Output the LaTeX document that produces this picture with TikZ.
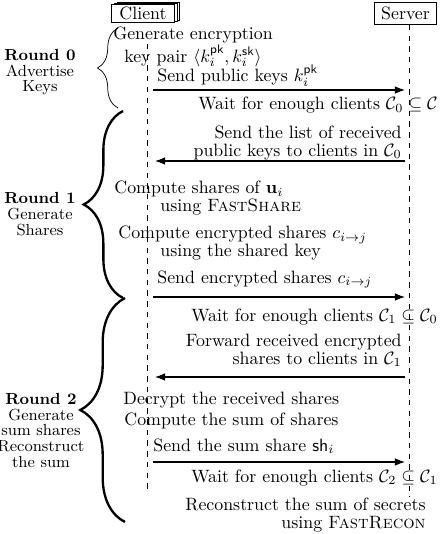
\documentclass[tikz,border=0pt]{standalone}
\usepackage{amsmath,amssymb}
\usetikzlibrary{arrows.meta,positioning,shadows,decorations.pathreplacing}

\begin{document}
\begin{tikzpicture}[x=0.56pt,y=-0.56pt,>=Latex,
  actor/.style={draw,fill=white,inner sep=1pt,minimum width=35pt},
  txt/.style={inner sep=0pt,font=\linespread{0.82}\selectfont},
  rnd/.style={inner sep=0pt,align=center,anchor=base,font=\small\linespread{0.79}\selectfont},
  life/.style={dashed,thin},
  msg/.style={->,semithick},
  brc/.style={decorate,decoration={brace,amplitude=#1}},
  brc/.default=12pt]
\useasboundingbox (0,0) rectangle (442,534);
% participants
\node[actor,minimum height=10pt,double copy shadow={shadow xshift=1.5pt,shadow yshift=0.5pt}] (client) at (143,13) {Client};
\node[actor,minimum height=12.5pt] (server) at (405.5,13.5) {Server};
\coordinate (cl0) at (147,44); \coordinate (cl1) at (147,494);
\coordinate (sl0) at (409,25); \coordinate (sl1) at (409,497);
\draw[life] (cl0)--(cl1); \draw[life] (sl0)--(sl1);
% round 0
\node[txt,align=center,anchor=base] (gen) at (193,62) {Generate encryption\\key pair $\langle k_i^{\mathsf{pk}}, k_i^{\mathsf{sk}}\rangle$};
\node[txt,anchor=base west] (sendpk) at (157,82) {Send public keys $k_i^{\mathsf{pk}}$};
\coordinate (c1) at (153,90); \coordinate (s1) at (405,90);
\draw[msg] (c1)--(s1);
\node[txt,anchor=base east] (wait0) at (438,110) {Wait for enough clients $\mathcal{C}_0 \subseteq \mathcal{C}$};
\node[txt,align=right,anchor=base east] (sendlist) at (402,156) {Send the list of received\\public keys to clients in $\mathcal{C}_0$};
\coordinate (c2) at (155,161); \coordinate (s2) at (405,161);
\draw[msg] (s2)--(c2);
% round 1
\node[txt,align=left,anchor=base west] (share) at (114,211) {Compute shares of $\mathbf{u}_i$\\\hspace*{25.8pt}using \textsc{FastShare}};
\node[txt,align=left,anchor=base west] (enc) at (118,256.5) {Compute encrypted shares $c_{i\to j}$\\\hspace*{23.5pt}using the shared key};
\node[txt,anchor=base west] (sendenc) at (157,283) {Send encrypted shares $c_{i\to j}$};
\coordinate (c3) at (153,297); \coordinate (s3) at (405,297);
\draw[msg] (c3)--(s3);
\node[txt,anchor=base east] (wait1) at (438,321) {Wait for enough clients $\mathcal{C}_1 \subseteq \mathcal{C}_0$};
\node[txt,align=right,anchor=base east] (fwd) at (402,364) {Forward received encrypted\\shares to clients in $\mathcal{C}_1$};
\coordinate (c4) at (155,377); \coordinate (s4) at (405,377);
\draw[msg] (s4)--(c4);
% round 2
\node[txt,anchor=base west] (dec) at (123,404) {Decrypt the received shares};
\node[txt,anchor=base west] (sum) at (124,425) {Compute the sum of shares};
\node[txt,anchor=base west] (sendsum) at (153,451) {Send the sum share $\mathsf{sh}_i$};
\coordinate (c5) at (153,462); \coordinate (s5) at (405,462);
\draw[msg] (c5)--(s5);
\node[txt,anchor=base east] (wait2) at (438,482) {Wait for enough clients $\mathcal{C}_2 \subseteq \mathcal{C}_1$};
\node[txt,align=right,anchor=base east] (recon) at (426,528) {Reconstruct the sum of secrets\\using \textsc{FastRecon}};
% rounds
\node[rnd] (r0) at (40,92) {\textbf{Round 0}\\Advertise\\Keys};
\node[rnd] (r1) at (40,235) {\textbf{Round 1}\\Generate\\Shares};
\node[rnd] (r2) at (41,467) {\textbf{Round 2}\\Generate\\sum shares\\Reconstruct\\the sum};
\coordinate (b0t) at (118,28); \coordinate (b0b) at (118,108);
\coordinate (b1t) at (123,111); \coordinate (b1b) at (123,298);
\coordinate (b2t) at (125,298); \coordinate (b2b) at (125,522);
\draw[brc=11.5pt] (b0b)--(b0t);
\draw[brc=22pt,line width=1.3pt] (b1b)--(b1t);
\draw[brc=25pt,line width=1.3pt] (b2b)--(b2t);
\end{tikzpicture}
\end{document}
